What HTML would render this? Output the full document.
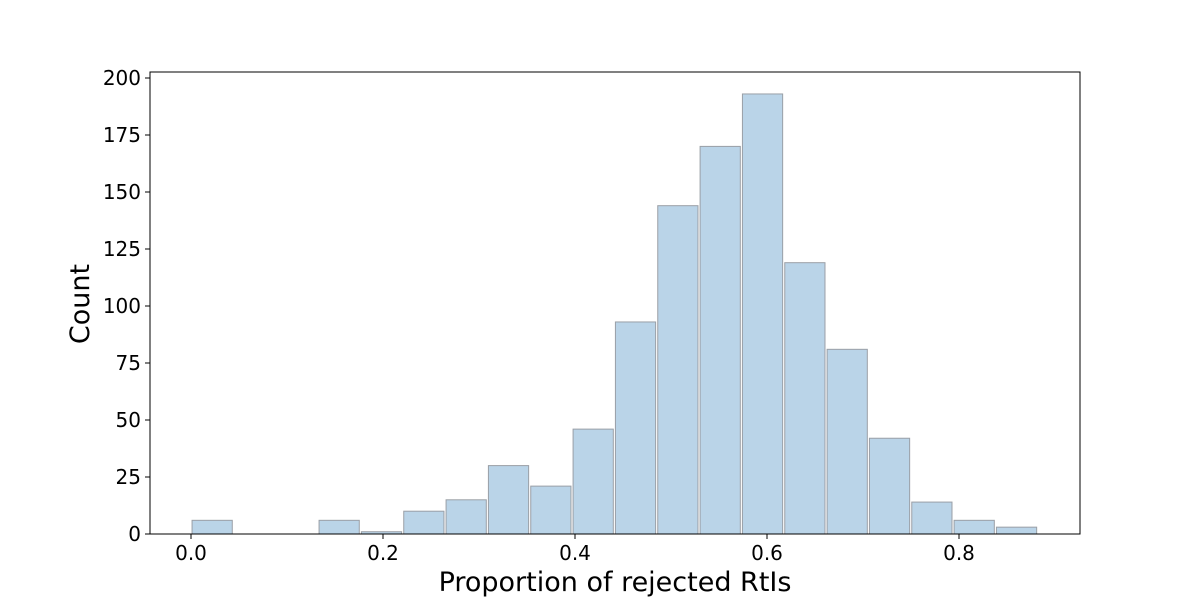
<!DOCTYPE html>
<html><head><meta charset="utf-8"><style>
body{margin:0;background:#fff;}
svg text{font-family:"DejaVu Sans","Liberation Sans",sans-serif;fill:#000;}
</style></head><body>
<svg id="chart" width="1200" height="600" xmlns="http://www.w3.org/2000/svg">
<g id="bars"></g>
<rect x="150" y="72" width="930" height="462" fill="none" stroke="#000" stroke-width="1"/>
<g id="xticks"></g>
<g id="yticks"></g>
<text x="615" y="591" font-size="27" text-anchor="middle">Proportion of rejected RtIs</text>
<text x="0" y="0" font-size="27" text-anchor="middle" transform="translate(89,304) rotate(-90)">Count</text>
</svg>
<script>
const counts = [6,0,0,6,1,10,15,30,21,46,93,144,170,193,119,81,42,14,6,3];
const binStart = 0.0;
const binWidth = 0.0441;
const xTicks = [0.0,0.2,0.4,0.6,0.8];
const xTickLabels = ["0.0","0.2","0.4","0.6","0.8"];
const yTicks = [0,25,50,75,100,125,150,175,200];

const NS="http://www.w3.org/2000/svg";
const x = v => 191 + v*960;
const y = v => 534 - v*2.28;
const bars=document.getElementById('bars');
counts.forEach((c,i)=>{
  if(c<=0) return;
  const x0=x(binStart+i*binWidth), x1=x(binStart+(i+1)*binWidth);
  const w=(x1-x0)*0.95;
  const r=document.createElementNS(NS,'rect');
  r.setAttribute('x',x0+(x1-x0-w)/2);
  r.setAttribute('y',y(c));
  r.setAttribute('width',w);
  r.setAttribute('height',y(0)-y(c));
  r.setAttribute('fill','#bad4e8');
  r.setAttribute('stroke','#9a9fa6');
  r.setAttribute('stroke-width','1');
  
  
  bars.appendChild(r);
});
const xg=document.getElementById('xticks');
xTicks.forEach((t,i)=>{
  const l=document.createElementNS(NS,'line');
  l.setAttribute('x1',x(t));l.setAttribute('x2',x(t));
  l.setAttribute('y1',534);l.setAttribute('y2',539);
  l.setAttribute('stroke','#000');
  
  
  xg.appendChild(l);
  const tx=document.createElementNS(NS,'text');
  tx.setAttribute('x',x(t));tx.setAttribute('y',560);
  tx.setAttribute('font-size','20');tx.setAttribute('text-anchor','middle');
  tx.textContent=xTickLabels[i];
  
  
  xg.appendChild(tx);
});
const yg=document.getElementById('yticks');
yTicks.forEach(t=>{
  const l=document.createElementNS(NS,'line');
  l.setAttribute('x1',145);l.setAttribute('x2',150);
  l.setAttribute('y1',y(t));l.setAttribute('y2',y(t));
  l.setAttribute('stroke','#000');
  
  
  yg.appendChild(l);
  const tx=document.createElementNS(NS,'text');
  tx.setAttribute('x',141);tx.setAttribute('y',y(t)+7);
  tx.setAttribute('font-size','20');tx.setAttribute('text-anchor','end');
  tx.textContent=String(t);
  
  
  yg.appendChild(tx);
});
</script>
</body></html>
